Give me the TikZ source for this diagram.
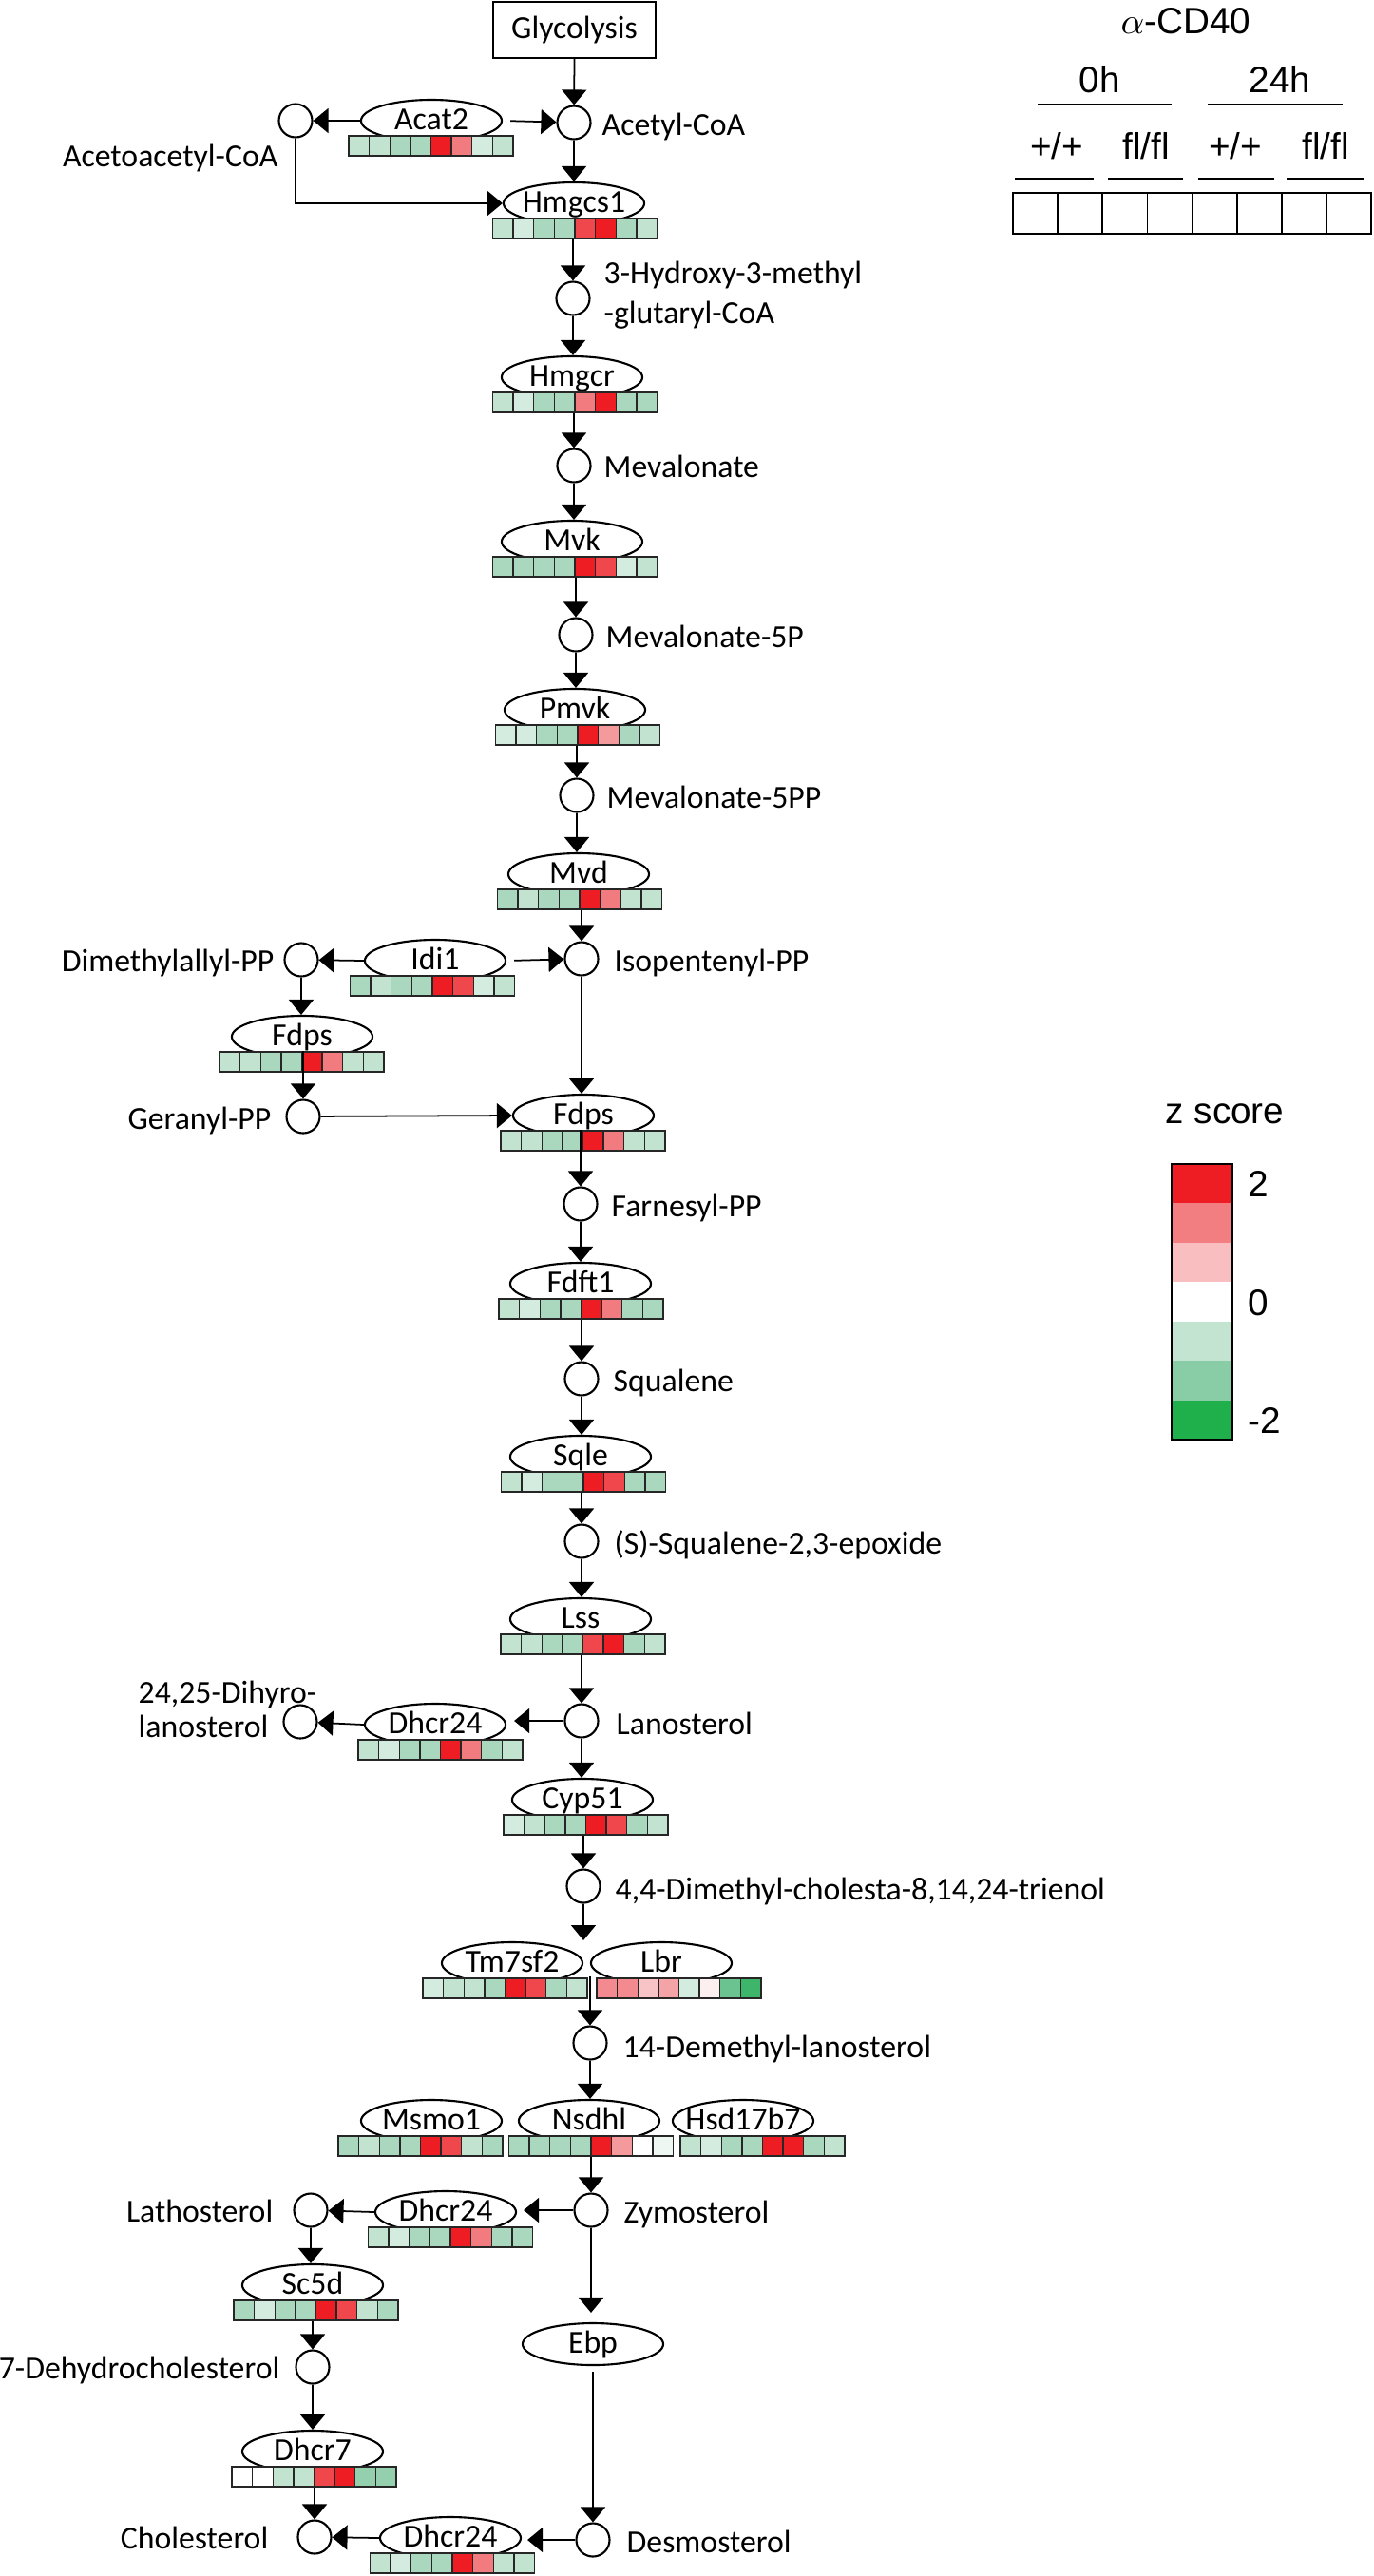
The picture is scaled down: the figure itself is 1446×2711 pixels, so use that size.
\documentclass[tikz,border=0pt]{standalone}
\usepackage{fontspec}
\setmainfont{Carlito}
\newfontfamily\legfont{Liberation Sans}
\usetikzlibrary{shapes.geometric,arrows.meta}
\definecolor{GA}{HTML}{D3ECDF}
\definecolor{GB}{HTML}{C2E3D0}
\definecolor{GC}{HTML}{AAD8BE}
\definecolor{GD}{HTML}{94CFAE}
\definecolor{RC}{HTML}{EE1D23}
\definecolor{RB}{HTML}{F0474D}
\definecolor{RA}{HTML}{F27B80}
\definecolor{PB}{HTML}{F4999C}
\definecolor{LbA}{HTML}{F28A8F}
\definecolor{LbB}{HTML}{F8C4C6}
\definecolor{LbC}{HTML}{F4A3A7}
\definecolor{LbD}{HTML}{FBEFF0}
\definecolor{LbE}{HTML}{6BC48F}
\definecolor{LbF}{HTML}{3DB56A}
\definecolor{NsW}{HTML}{EEF7F2}
\definecolor{ZA}{HTML}{EE1D23}
\definecolor{ZB}{HTML}{F27E82}
\definecolor{ZC}{HTML}{F9BEC0}
\definecolor{ZD}{HTML}{FFFFFF}
\definecolor{ZE}{HTML}{C4E4D2}
\definecolor{ZF}{HTML}{88CDA6}
\definecolor{ZG}{HTML}{1FB04B}
\newcommand{\mfont}{\fontsize{9.6}{11.5}\selectfont}
\newcommand{\lfont}{\legfont\fontsize{11}{13}\selectfont}
\tikzset{
  met/.style={circle,draw,line width=0.6pt,minimum size=0.35cm,inner sep=0pt},
  enz/.style={ellipse,draw,line width=0.6pt,minimum width=1.48cm,minimum height=0.44cm,inner sep=0pt},
  hmap/.style={rectangle,minimum width=1.73cm,minimum height=0.21cm,inner sep=0pt},
  arr/.style={line width=0.5pt,-{Triangle[width=2.6mm,length=1.6mm]}},
  mtxt/.style={font=\mfont,inner sep=0pt},
  ltxt/.style={font=\lfont,inner sep=0pt},
  cellbox/.style={draw=black!85,line width=0.4pt},
}
\newcommand{\gene}[6]{%
  \node[enz] (#1) at (#3,#5-16) {};
  \node[hmap] (#1h) at (#4,#5+10.5) {};
  \foreach \hmc [count=\hmi] in {#6} {
    \filldraw[cellbox,fill=\hmc] ({#4-86.5+(\hmi-1)*21.625},#5) rectangle ++(21.625,21);
  }
  \node[mtxt,anchor=base] (#1t) at (#3,#5-7) {#2};
}
\begin{document}
\begin{tikzpicture}[x=0.01cm,y=-0.01cm]
\useasboundingbox (0,0) rectangle (1446,2711);

% ---------- metabolites ----------
\node[draw,line width=0.6pt,minimum width=1.71cm,minimum height=0.59cm,inner sep=0pt,font=\mfont] (glyc) at (604.5,31.5) {Glycolysis};
\node[met] (acoa) at (604,129) {};
\node[met] (aacoa) at (311,127) {};
\node[met] (hmg) at (603,314) {};
\node[met] (mev) at (604,490) {};
\node[met] (mevp) at (606,668) {};
\node[met] (mevpp) at (607,837) {};
\node[met] (ipp) at (612,1009) {};
\node[met] (dmapp) at (317,1010) {};
\node[met] (gpp) at (319,1175) {};
\node[met] (fpp) at (611,1267) {};
\node[met] (sq) at (612,1451) {};
\node[met] (sqe) at (612,1622) {};
\node[met] (lan) at (612,1811) {};
\node[met] (dhl) at (316,1812) {};
\node[met] (dmc) at (614,1985) {};
\node[met] (dml) at (621,2150) {};
\node[met] (zym) at (622,2326) {};
\node[met] (lat) at (327,2326) {};
\node[met] (dhc) at (329,2491) {};
\node[met] (chol) at (331,2670) {};
\node[met] (des) at (624,2673) {};

% ---------- metabolite labels ----------
\node[mtxt,anchor=base west] (acoaL) at (633,142) {Acetyl-CoA};
\node[mtxt,anchor=base east] (aacoaL) at (293,175) {Acetoacetyl-CoA};
\node[mtxt,anchor=base west] (hmgL1) at (635,298) {3-Hydroxy-3-methyl};
\node[mtxt,anchor=base west] (hmgL2) at (635,340) {-glutaryl-CoA};
\node[mtxt,anchor=base west] (mevL) at (635,502) {Mevalonate};
\node[mtxt,anchor=base west] (mevpL) at (637,681) {Mevalonate-5P};
\node[mtxt,anchor=base west] (mevppL) at (638,850) {Mevalonate-5PP};
\node[mtxt,anchor=base west] (ippL) at (646,1022) {Isopentenyl-PP};
\node[mtxt,anchor=base east] (dmappL) at (289,1022) {Dimethylallyl-PP};
\node[mtxt,anchor=base east] (gppL) at (286,1188) {Geranyl-PP};
\node[mtxt,anchor=base west] (fppL) at (643,1280) {Farnesyl-PP};
\node[mtxt,anchor=base west] (sqL) at (645,1464) {Squalene};
\node[mtxt,anchor=base west] (sqeL) at (646,1635) {(S)-Squalene-2,3-epoxide};
\node[mtxt,anchor=base west] (lanL) at (648,1825) {Lanosterol};
\node[mtxt,anchor=base west] (dhlL1) at (145,1792) {24,25-Dihyro-};
\node[mtxt,anchor=base west] (dhlL2) at (145,1828) {lanosterol};
\node[mtxt,anchor=base west] (dmcL) at (647,1999) {4,4-Dimethyl-cholesta-8,14,24-trienol};
\node[mtxt,anchor=base west] (dmlL) at (655,2165) {14-Demethyl-lanosterol};
\node[mtxt,anchor=base west] (zymL) at (656,2339) {Zymosterol};
\node[mtxt,anchor=base east] (latL) at (288,2338) {Lathosterol};
\node[mtxt,anchor=base east] (dhcL) at (295,2503) {7-Dehydrocholesterol};
\node[mtxt,anchor=base east] (cholL) at (283,2682) {Cholesterol};
\node[mtxt,anchor=base west] (desL) at (659,2686) {Desmosterol};

% ---------- enzymes with heat maps ----------
\gene{acat}{Acat2}{454}{453.5}{143}{GB,GB,GC,GC,RC,RA,GA,GB}
\gene{hmgcs}{Hmgcs1}{604}{605}{230}{GB,GA,GC,GC,RB,RC,GC,GB}
\gene{hmgcr}{Hmgcr}{602}{605}{413}{GB,GA,GC,GC,RA,RC,GC,GC}
\gene{mvk}{Mvk}{602}{605}{586}{GC,GC,GC,GC,RC,RB,GA,GB}
\gene{pmvk}{Pmvk}{605}{608}{763}{GA,GA,GC,GC,RC,PB,GC,GB}
\gene{mvd}{Mvd}{609}{610}{936}{GC,GB,GC,GC,RC,RA,GB,GB}
\gene{idi}{Idi1}{458}{455}{1027}{GC,GB,GC,GC,RC,RB,GA,GB}
\gene{fdpsA}{Fdps}{318}{317.5}{1107}{GB,GB,GC,GC,RC,RA,GB,GB}
\gene{fdpsB}{Fdps}{614}{613.5}{1190}{GB,GB,GC,GC,RC,RA,GB,GB}
\gene{fdft}{Fdft1}{611}{611.5}{1367}{GB,GA,GC,GC,RC,RA,GC,GC}
\gene{sqle}{Sqle}{611}{614}{1549}{GB,GA,GC,GC,RC,RB,GC,GC}
\gene{lss}{Lss}{611}{613.5}{1720}{GB,GB,GC,GC,RB,RC,GC,GB}
\gene{dhA}{Dhcr24}{458}{463.5}{1831}{GB,GA,GC,GC,RC,RA,GC,GB}
\gene{cyp}{Cyp51}{613}{616.5}{1910}{GA,GB,GC,GC,RC,RB,GC,GB}
\gene{tm}{Tm7sf2}{539}{531.5}{2082}{GA,GB,GB,GC,RC,RB,GC,GB}
\gene{lbr}{Lbr}{696}{714.5}{2082}{LbA,LbA,LbB,LbC,GA,LbD,LbE,LbF}
\gene{msmo}{Msmo1}{454}{442.5}{2248}{GC,GB,GC,GC,RC,RB,GB,GC}
\gene{nsdhl}{Nsdhl}{620}{622}{2248}{GC,GC,GC,GC,RC,PB,white,NsW}
\gene{hsd}{Hsd17b7}{782}{802.5}{2248}{GB,GA,GC,GC,RC,RC,GC,GB}
\gene{dhB}{Dhcr24}{469}{474}{2344}{GB,GA,GC,GC,RC,RA,GC,GC}
\gene{scd}{Sc5d}{329}{332.5}{2421}{GC,GA,GC,GC,RC,RB,GB,GC}
\gene{dhseven}{Dhcr7}{329}{330.5}{2596}{white,white,GB,GB,RB,RC,GD,GD}
\gene{dhC}{Dhcr24}{474}{476}{2687}{GB,GA,GC,GC,RC,RA,GB,GB}
\node[enz] (ebp) at (624,2467) {};
\node[mtxt,anchor=base] (ebpt) at (624,2476) {Ebp};

% ---------- connectors ----------
\draw[arr] (glyc.south) -- (acoa);
\draw[arr] (acat.west) -- (aacoa);
\draw[arr,shorten <=0.08cm] (acat.east) -- (acoa);
\draw[arr] (acoa) -- (acoa |- hmgcs.north);
\draw[arr] (aacoa) |- (hmgcs.west);
\draw[arr] (hmgcsh.south -| hmg) -- (hmg);
\draw[arr] (hmg) -- (hmg |- hmgcr.north);
\draw[arr] (hmgcrh.south -| mev) -- (mev);
\draw[arr] (mev) -- (mev |- mvk.north);
\draw[arr] (mvkh.south -| mevp) -- (mevp);
\draw[arr] (mevp) -- (mevp |- pmvk.north);
\draw[arr] (pmvkh.south -| mevpp) -- (mevpp);
\draw[arr] (mevpp) -- (mevpp |- mvd.north);
\draw[arr] (mvdh.south -| ipp) -- (ipp);
\draw[arr] (idi.west) -- (dmapp);
\draw[arr,shorten <=0.08cm] (idi.east) -- (ipp);
\draw[arr] (ipp) -- (ipp |- fdpsB.north);
\draw[arr] (dmapp) -- (dmapp |- fdpsA.north);
\draw[arr] (fdpsAh.north -| gpp) -- (gpp);
\draw[arr] (gpp) -- (fdpsB.west);
\draw[arr] (fdpsBh.north -| fpp) -- (fpp);
\draw[arr] (fpp) -- (fpp |- fdft.north);
\draw[arr] (fdfth.south -| sq) -- (sq);
\draw[arr] (sq) -- (sq |- sqle.north);
\draw[arr] (sqleh.south -| sqe) -- (sqe);
\draw[arr] (sqe) -- (sqe |- lss.north);
\draw[arr] (lssh.south -| lan) -- (lan);
\draw[arr,shorten >=0.08cm] (lan) -- (dhA.east |- lan);
\draw[arr] (dhA.west) -- (dhl);
\draw[arr] (lan) -- (lan |- cyp.north);
\draw[arr] (cyph.south -| dmc) -- (dmc);
\coordinate (gapin) at (614,2042);
\coordinate (gapout) at (621,2080);
\draw[arr] (dmc) -- (gapin);
\draw[arr] (gapout) -- (dml);
\draw[arr] (dml) -- (dml |- nsdhl.north);
\draw[arr] (nsdhlh.south -| zym) -- (zym);
\draw[arr,shorten >=0.07cm] (zym) -- (dhB.east |- zym);
\draw[arr] (dhB.west) -- (lat);
\draw[arr] (lat) -- (lat |- scd.north);
\draw[arr] (scdh.south -| dhc) -- (dhc);
\draw[arr] (dhc) -- (dhc |- dhseven.north);
\draw[arr] (dhsevenh.south -| chol) -- (chol);
\draw[arr,shorten >=0.1cm] (zym) -- (zym |- ebp.north);
\draw[arr,shorten <=0.06cm] (ebp.south) -- (des);
\draw[arr,shorten >=0.06cm] (des) -- (dhC.east |- des);
\draw[arr] (dhC.west) -- (chol);

% ---------- sample legend ----------
\node[ltxt,anchor=base] (acd) at (1248,35) {$\alpha$-CD40};
\node[ltxt,anchor=base] (tzero) at (1157,97) {0h};
\node[ltxt,anchor=base] (tday) at (1347,97) {24h};
\draw[line width=0.6pt] (1092,110) -- (1233,110);
\draw[line width=0.6pt] (1271,110) -- (1413,110);
\node[ltxt,anchor=base] (gA) at (1112,167) {+/+};
\node[ltxt,anchor=base] (gB) at (1206,167) {fl/fl};
\node[ltxt,anchor=base] (gC) at (1300,167) {+/+};
\node[ltxt,anchor=base] (gD) at (1395,167) {fl/fl};
\draw[line width=0.6pt] (1068,188) -- (1151,188);
\draw[line width=0.6pt] (1166,188) -- (1245,188);
\draw[line width=0.6pt] (1261,188) -- (1341,188);
\draw[line width=0.6pt] (1354,188) -- (1435,188);
\foreach \k in {0,...,7} {
  \draw[line width=0.5pt] ({1066+\k*47.125},203) rectangle ++(47.125,43);
}

% ---------- z score legend ----------
\node[ltxt,anchor=base] (zs) at (1289,1182) {z score};
\foreach \zc [count=\zi] in {ZA,ZB,ZC,ZD,ZE,ZF,ZG} {
  \fill[\zc] (1233,{1225+(\zi-1)*41.43}) rectangle ++(64,41.43);
}
\draw[line width=0.8pt] (1233,1225) rectangle (1297,1515);
\node[ltxt,anchor=base west] (ztwo) at (1313,1259) {2};
\node[ltxt,anchor=base west] (zzero) at (1313,1384) {0};
\node[ltxt,anchor=base west] (zmtwo) at (1313,1508) {-2};
\end{tikzpicture}
\end{document}
